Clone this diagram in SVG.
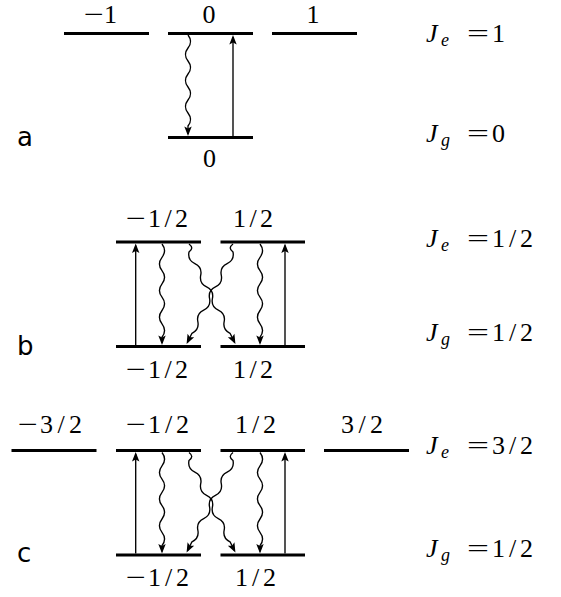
<svg xmlns="http://www.w3.org/2000/svg" width="561" height="597" viewBox="0 0 561 597">
<defs>
<style>
.lv{stroke:#000;stroke-width:3;fill:none}
.ar{stroke:#000;stroke-width:1.35;fill:none;marker-end:url(#ah)}
.m{font-family:"Liberation Serif","Times New Roman",serif;font-size:26px;fill:#000}
.mi{font-family:"Liberation Serif","Times New Roman",serif;font-size:26px;font-style:italic;fill:#000}
.ms{font-family:"Liberation Serif","Times New Roman",serif;font-size:18px;font-style:italic;fill:#000}
.sf{font-family:"DejaVu Sans","Liberation Sans",sans-serif;font-size:26px;fill:#000}
</style>
<marker id="ah" markerUnits="userSpaceOnUse" markerWidth="12" markerHeight="10" refX="0" refY="0" orient="auto" overflow="visible">
<path d="M2,0 L-7.5,-3.7 L-5.5,0 L-7.5,3.7 Z" fill="#000"/>
</marker>
</defs>
<rect width="561" height="597" fill="#fff"/>

<!-- Panel a -->
<g id="a-e-m1"><line class="lv" x1="64" y1="33.5" x2="149" y2="33.5"/><text class="m" x="84" y="23" textLength="20" lengthAdjust="spacingAndGlyphs">−</text><text class="m" x="104" y="23">1</text></g>
<g id="a-e-0"><line class="lv" x1="168" y1="33.5" x2="253" y2="33.5"/><text class="m" x="209" y="23" text-anchor="middle">0</text></g>
<g id="a-e-p1"><line class="lv" x1="272" y1="33.5" x2="357" y2="33.5"/><text class="m" x="313" y="23" text-anchor="middle">1</text></g>
<g id="a-g-0"><line class="lv" x1="168" y1="137.5" x2="253" y2="137.5"/><text class="m" x="209.5" y="167" text-anchor="middle">0</text></g>
<g id="label-a"><text class="sf" x="17" y="146">a</text></g>
<g id="a-Je"><text class="mi" x="426" y="41.7">J</text><text class="ms" x="441" y="45.7">e</text><text class="m" x="467" y="41.7" textLength="22" lengthAdjust="spacingAndGlyphs">=</text><text class="m" x="492" y="41.7">1</text></g>
<g id="a-Jg"><text class="mi" x="426" y="141.7">J</text><text class="ms" x="441" y="145.7">g</text><text class="m" x="467" y="141.7" textLength="22" lengthAdjust="spacingAndGlyphs">=</text><text class="m" x="492" y="141.7">0</text></g>

<!-- Panel b -->
<g id="b-e-m"><line class="lv" x1="116" y1="242" x2="201" y2="242"/><text class="m" x="126" y="226.5" textLength="20" lengthAdjust="spacingAndGlyphs">−</text><text class="m" x="148" y="226.5" textLength="40" lengthAdjust="spacing">1/2</text></g>
<g id="b-e-p"><line class="lv" x1="220.5" y1="242" x2="305" y2="242"/><text class="m" x="233" y="226.5" textLength="40" lengthAdjust="spacing">1/2</text></g>
<g id="b-g-m"><line class="lv" x1="116" y1="346.5" x2="201" y2="346.5"/><text class="m" x="126" y="378" textLength="20" lengthAdjust="spacingAndGlyphs">−</text><text class="m" x="148" y="378" textLength="40" lengthAdjust="spacing">1/2</text></g>
<g id="b-g-p"><line class="lv" x1="220.5" y1="346.5" x2="305" y2="346.5"/><text class="m" x="233" y="378" textLength="40" lengthAdjust="spacing">1/2</text></g>
<g id="label-b"><text class="sf" x="17" y="355">b</text></g>
<g id="b-Je"><text class="mi" x="426" y="247">J</text><text class="ms" x="441" y="251">e</text><text class="m" x="467" y="247" textLength="22" lengthAdjust="spacingAndGlyphs">=</text><text class="m" x="492" y="247" textLength="41" lengthAdjust="spacing">1/2</text></g>
<g id="b-Jg"><text class="mi" x="426" y="340.7">J</text><text class="ms" x="441" y="344.7">g</text><text class="m" x="467" y="340.7" textLength="22" lengthAdjust="spacingAndGlyphs">=</text><text class="m" x="492" y="340.7" textLength="41" lengthAdjust="spacing">1/2</text></g>

<!-- Panel c -->
<g id="c-e-m3"><line class="lv" x1="11.5" y1="450.5" x2="96.5" y2="450.5"/><text class="m" x="18" y="433" textLength="20" lengthAdjust="spacingAndGlyphs">−</text><text class="m" x="40" y="433" textLength="42" lengthAdjust="spacing">3/2</text></g>
<g id="c-e-m1"><line class="lv" x1="116" y1="450.5" x2="201" y2="450.5"/><text class="m" x="126" y="433" textLength="20" lengthAdjust="spacingAndGlyphs">−</text><text class="m" x="148" y="433" textLength="41" lengthAdjust="spacing">1/2</text></g>
<g id="c-e-p1"><line class="lv" x1="220.5" y1="450.5" x2="305" y2="450.5"/><text class="m" x="235" y="433" textLength="41" lengthAdjust="spacing">1/2</text></g>
<g id="c-e-p3"><line class="lv" x1="324" y1="450.5" x2="409" y2="450.5"/><text class="m" x="341" y="433" textLength="42" lengthAdjust="spacing">3/2</text></g>
<g id="c-g-m"><line class="lv" x1="116" y1="555" x2="201" y2="555"/><text class="m" x="126" y="586" textLength="20" lengthAdjust="spacingAndGlyphs">−</text><text class="m" x="148" y="586" textLength="41" lengthAdjust="spacing">1/2</text></g>
<g id="c-g-p"><line class="lv" x1="220.5" y1="555" x2="305" y2="555"/><text class="m" x="235" y="586" textLength="41" lengthAdjust="spacing">1/2</text></g>
<g id="label-c"><text class="sf" x="17" y="562">c</text></g>
<g id="c-Je"><text class="mi" x="426" y="454">J</text><text class="ms" x="441" y="458">e</text><text class="m" x="467" y="454" textLength="22" lengthAdjust="spacingAndGlyphs">=</text><text class="m" x="492" y="454" textLength="41" lengthAdjust="spacing">3/2</text></g>
<g id="c-Jg"><text class="mi" x="426" y="556.7">J</text><text class="ms" x="441" y="560.7">g</text><text class="m" x="467" y="556.7" textLength="22" lengthAdjust="spacingAndGlyphs">=</text><text class="m" x="492" y="556.7" textLength="41" lengthAdjust="spacing">1/2</text></g>

<!-- Connectors -->
<g id="connectors">
<g id="conn-a">
<path class="ar" d="M188,35 c3.7,4.7 3.7,8.3 0,13 s-3.7,8.3 0,13 s3.7,8.3 0,13 s-3.7,8.3 0,13 s3.7,8.3 0,13 s-3.7,8.3 0,13 s3.7,8.3 0,13 l0,8"/>
<path class="ar" d="M233,136 V37"/>
</g>
<g id="conn-b">
<path class="ar" d="M135.7,345 V245.5"/>
<path class="ar" d="M285,345 V245.5"/>
<path class="ar" d="M162,244 c3.7,4.8 3.7,8.5 0,13.3 s-3.7,8.5 0,13.3 s3.7,8.5 0,13.3 s-3.7,8.5 0,13.3 s3.7,8.5 0,13.3 s-3.7,8.5 0,13.3 s3.7,8.5 0,13.3 l0,6"/>
<path class="ar" d="M260,244 c3.7,4.8 3.7,8.5 0,13.3 s-3.7,8.5 0,13.3 s3.7,8.5 0,13.3 s-3.7,8.5 0,13.3 s3.7,8.5 0,13.3 s-3.7,8.5 0,13.3 s3.7,8.5 0,13.3 l0,6"/>
<path class="ar" d="M189,244 c3.7,2.9 3.7,5.1 0,8 c-1.18,5.87 0.44,9.08 5.86,11.61 s7.04,5.74 5.86,11.61 s0.44,9.08 5.86,11.61 s7.04,5.74 5.86,11.61 s0.44,9.08 5.86,11.61 s7.04,5.74 5.86,11.61 s0.44,9.08 5.86,11.61 l4.5,8.9"/>
<path class="ar" d="M233,244 c-3.7,2.9 -3.7,5.1 0,8 c1.18,5.87 -0.44,9.08 -5.86,11.61 s-7.04,5.74 -5.86,11.61 s-0.44,9.08 -5.86,11.61 s-7.04,5.74 -5.86,11.61 s-0.44,9.08 -5.86,11.61 s-7.04,5.74 -5.86,11.61 s-0.44,9.08 -5.86,11.61 l-4.5,8.9"/>
</g>
<g id="conn-c" transform="translate(0,208.5)">
<path class="ar" d="M135.7,345 V245.5"/>
<path class="ar" d="M285,345 V245.5"/>
<path class="ar" d="M162,244 c3.7,4.8 3.7,8.5 0,13.3 s-3.7,8.5 0,13.3 s3.7,8.5 0,13.3 s-3.7,8.5 0,13.3 s3.7,8.5 0,13.3 s-3.7,8.5 0,13.3 s3.7,8.5 0,13.3 l0,6"/>
<path class="ar" d="M260,244 c3.7,4.8 3.7,8.5 0,13.3 s-3.7,8.5 0,13.3 s3.7,8.5 0,13.3 s-3.7,8.5 0,13.3 s3.7,8.5 0,13.3 s-3.7,8.5 0,13.3 s3.7,8.5 0,13.3 l0,6"/>
<path class="ar" d="M189,244 c3.7,2.9 3.7,5.1 0,8 c-1.18,5.87 0.44,9.08 5.86,11.61 s7.04,5.74 5.86,11.61 s0.44,9.08 5.86,11.61 s7.04,5.74 5.86,11.61 s0.44,9.08 5.86,11.61 s7.04,5.74 5.86,11.61 s0.44,9.08 5.86,11.61 l4.5,8.9"/>
<path class="ar" d="M233,244 c-3.7,2.9 -3.7,5.1 0,8 c1.18,5.87 -0.44,9.08 -5.86,11.61 s-7.04,5.74 -5.86,11.61 s-0.44,9.08 -5.86,11.61 s-7.04,5.74 -5.86,11.61 s-0.44,9.08 -5.86,11.61 s-7.04,5.74 -5.86,11.61 s-0.44,9.08 -5.86,11.61 l-4.5,8.9"/>
</g>
</g>
</svg>
